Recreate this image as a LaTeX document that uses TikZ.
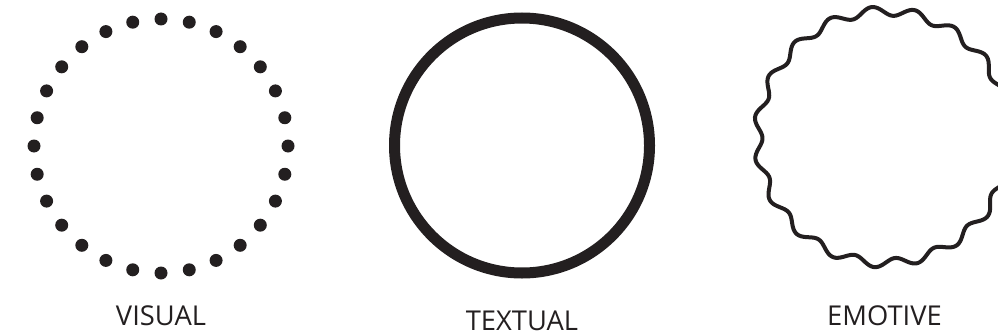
\documentclass[tikz,border=0pt]{standalone}
\usepackage{fontspec}
\setmainfont{Open Sans}
\usetikzlibrary{calc}
\definecolor{ink}{HTML}{231F20}
\begin{document}
\begin{tikzpicture}[x=0.75pt,y=-0.75pt,
  lbl/.style={anchor=base,text=ink,inner sep=0pt,text depth=0pt,font=\fontsize{20.5}{24}\selectfont},
  dotmark/.style={fill=ink},
  ring/.style={draw=ink,line width=8.25pt},
  wavy/.style={draw=ink,line width=3pt}]
\useasboundingbox (0,0) rectangle (998,335);
\clip (0,0) rectangle (998,335);
% visual: dotted circle
\foreach \k in {0,...,27}{
  \fill[dotmark] ($(161,146)+({-90+\k*360/28}:127)$) circle (6.5);
}
% textual: solid circle
\draw[ring] (522,145.5) circle (127.5);
% emotive: wavy circle
\draw[wavy] plot[smooth cycle,samples=380,domain=0:359.05,variable=\t]
  ({884+(126+4.5*cos(19*(\t-264.7)))*cos(\t)},{137+(126+4.5*cos(19*(\t-264.7)))*sin(\t)});
\node[lbl] (visual) at (161,325) {VISUAL};
\node[lbl] (textual) at (522,330) {TEXTUAL};
\node[lbl] (emotive) at (884.5,325) {EMOTIVE};
\end{tikzpicture}
\end{document}
